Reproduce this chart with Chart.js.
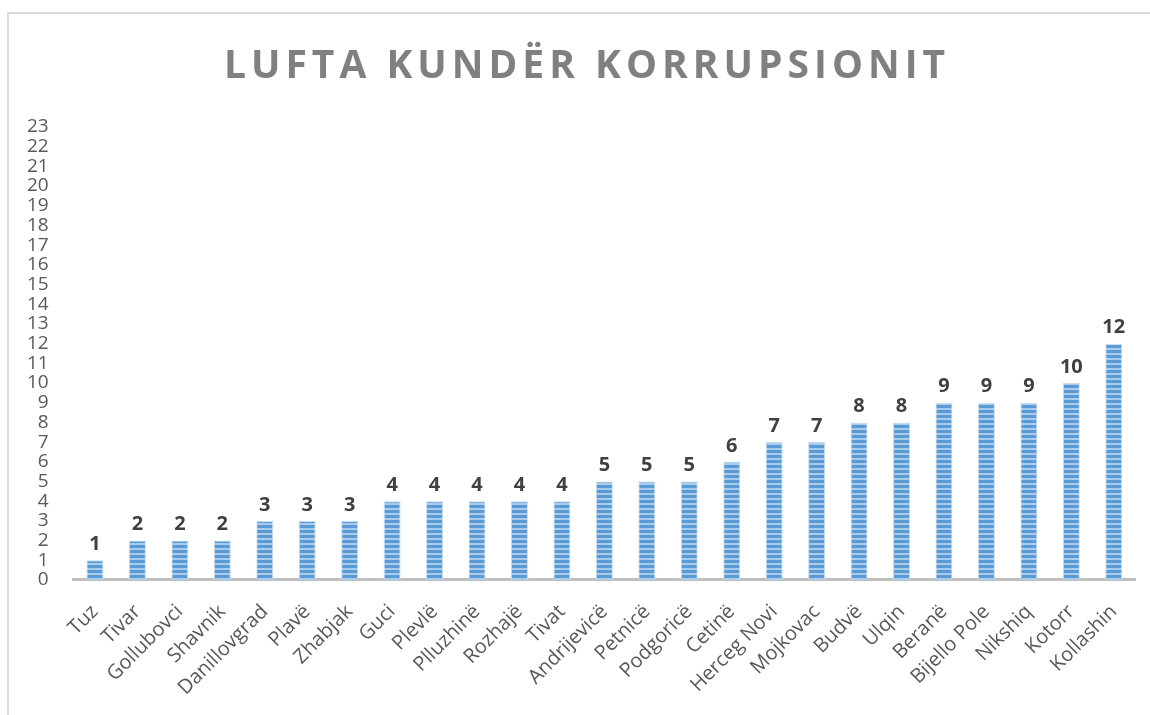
<!DOCTYPE html>
<html>
<head>
<meta charset="utf-8">
<script src="https://cdn.jsdelivr.net/npm/chart.js@4"></script>
<style>
  body { margin: 0; background: #fff; }
</style>
</head>
<body>
<canvas id="myChart" width="1150" height="715"></canvas>
<script>
const titleText = "LUFTA KUNDËR KORRUPSIONIT";
const categories = ["Tuz", "Tivar", "Gollubovci", "Shavnik", "Danillovgrad", "Plavë", "Zhabjak", "Guci", "Plevlë", "Plluzhinë", "Rozhajë", "Tivat", "Andrijevicë", "Petnicë", "Podgoricë", "Cetinë", "Herceg Novi", "Mojkovac", "Budvë", "Ulqin", "Beranë", "Bijello Pole", "Nikshiq", "Kotorr", "Kollashin"];
const values = [1, 2, 2, 2, 3, 3, 3, 4, 4, 4, 4, 4, 5, 5, 5, 6, 7, 7, 8, 8, 9, 9, 9, 10, 12];
const yMin = 0;
const yMax = 23;

// striped fill like the office pattern
function stripes() {
  const c = document.createElement('canvas');
  c.width = 4; c.height = 5;
  const g = c.getContext('2d');
  g.fillStyle = '#a9cbec';
  g.fillRect(0, 0, 4, 5);
  g.fillStyle = '#5b9bd5';
  g.fillRect(0, 0, 4, 3);
  return g.createPattern(c, 'repeat');
}

const framePlugin = {
  id: 'frame',
  beforeDraw(chart) {
    const ctx = chart.ctx;
    ctx.save();
    ctx.strokeStyle = '#d9d9d9';
    ctx.lineWidth = 2;
    ctx.beginPath();
    ctx.moveTo(8, 715);
    ctx.lineTo(8, 13);
    ctx.lineTo(1150, 13);
    ctx.stroke();
    ctx.restore();
  }
};

const titlePlugin = {
  id: 'bigTitle',
  afterDraw(chart) {
    const ctx = chart.ctx;
    ctx.save();
    ctx.font = 'bold 39px "Open Sans"';
    ctx.letterSpacing = '5px';
    ctx.fillStyle = '#808080';
    ctx.textAlign = 'center';
    ctx.textBaseline = 'alphabetic';
    ctx.fillText(titleText, 587, 78);
    ctx.restore();
  }
};

const labelPlugin = {
  id: 'valueLabels',
  afterDatasetsDraw(chart) {
    const ctx = chart.ctx;
    const meta = chart.getDatasetMeta(0);
    ctx.save();
    ctx.font = 'bold 20px "Open Sans"';
    ctx.fillStyle = '#404040';
    ctx.textAlign = 'center';
    ctx.textBaseline = 'bottom';
    meta.data.forEach((bar, i) => {
      ctx.fillText(values[i], bar.x, bar.y - 6);
    });
    ctx.restore();
  }
};

const ctx = document.getElementById('myChart').getContext('2d');
new Chart(ctx, {
  type: 'bar',
  data: {
    labels: categories,
    datasets: [{
      data: values,
      backgroundColor: stripes(),
      borderColor: '#c5dbf0',
      borderWidth: 1,
      barPercentage: 0.4,
      categoryPercentage: 1
    }]
  },
  options: {
    responsive: false,
    animation: false,
    layout: { padding: { top: 127, left: 10, right: 15, bottom: 3 } },
    plugins: {
      legend: { display: false },
      tooltip: { enabled: false }
    },
    scales: {
      x: {
        grid: { display: false },
        border: { color: '#bfbfbf', width: 3 },
        ticks: {
          color: '#595959',
          font: { family: '"Open Sans"', size: 20 },
          minRotation: 45,
          maxRotation: 45,
          autoSkip: false,
          padding: 12
        }
      },
      y: {
        min: yMin,
        max: yMax,
        grid: { display: false },
        border: { display: false },
        ticks: {
          stepSize: 1,
          autoSkip: false,
          color: '#595959',
          font: { family: '"Open Sans"', size: 19 },
          padding: 17
        }
      }
    }
  },
  plugins: [framePlugin, titlePlugin, labelPlugin]
});
</script>
</body>
</html>
